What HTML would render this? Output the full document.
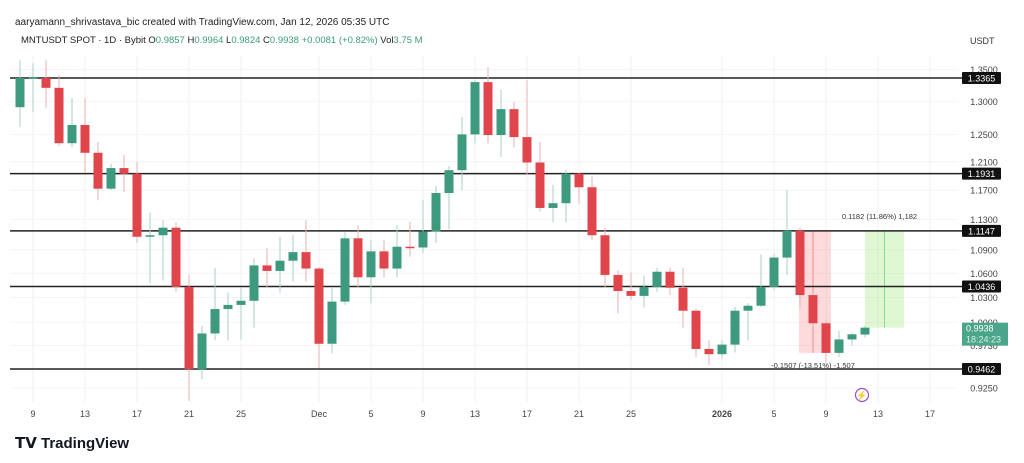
<!DOCTYPE html>
<html><head><meta charset="utf-8"><style>
body{margin:0;background:#fff;width:1024px;height:463px;overflow:hidden;font-family:"Liberation Sans",sans-serif}
svg{display:block}
</style></head><body>
<svg id="c" width="1024" height="463" xmlns="http://www.w3.org/2000/svg">
<text x="15" y="25" font-size="10" fill="#222">aaryamann_shrivastava_bic created with TradingView.com, Jan 12, 2026 05:35 UTC</text>
<text x="21" y="43" font-size="9.5" fill="#222">MNTUSDT SPOT · 1D · Bybit  O<tspan fill="#3a9b80">0.9857</tspan>  H<tspan fill="#3a9b80">0.9964</tspan>  L<tspan fill="#3a9b80">0.9824</tspan>  C<tspan fill="#3a9b80">0.9938</tspan>  <tspan fill="#3a9b80">+0.0081 (+0.82%)</tspan>  Vol<tspan fill="#3a9b80">3.75 M</tspan></text>
<text x="970" y="44" font-size="9" fill="#333">USDT</text>
<g id="grid"></g>
<g id="boxes"></g>
<g id="levels"></g>
<g id="candles"></g>
<g id="axis"></g>
<g id="xaxis"></g>
<g><circle cx="862" cy="395" r="6.5" fill="none" stroke="#9c4fc4" stroke-width="1.2"/><text x="862" y="398.5" font-size="9" fill="#9c4fc4" text-anchor="middle">⚡</text></g>
<g><text x="15" y="448" font-size="15" font-weight="bold" fill="#131722">𝗧𝗩</text><text x="41" y="448" font-size="15" font-weight="bold" fill="#131722">TradingView</text></g>
</svg>
<script>
const opens=[1.291,1.336,1.3365,1.321,1.237,1.264,1.223,1.172,1.201,1.193,1.107,1.109,1.119,1.043,0.946,0.987,1.016,1.021,1.026,1.070,1.063,1.076,1.087,1.066,0.975,1.025,1.105,1.055,1.088,1.066,1.094,1.093,1.114,1.166,1.198,1.250,1.330,1.249,1.288,1.246,1.209,1.1455,1.152,1.193,1.174,1.109,1.058,1.038,1.032,1.043,1.062,1.042,1.014,0.969,0.963,0.974,1.014,1.020,1.043,1.080,1.115,1.033,0.999,0.9645,0.980,0.9857];
const highs=[1.365,1.360,1.365,1.341,1.305,1.305,1.239,1.207,1.220,1.210,1.139,1.129,1.126,1.058,0.996,1.067,1.036,1.043,1.079,1.092,1.107,1.109,1.129,1.068,1.043,1.113,1.122,1.103,1.103,1.122,1.127,1.156,1.176,1.204,1.276,1.333,1.354,1.318,1.299,1.333,1.239,1.177,1.199,1.194,1.189,1.119,1.064,1.061,1.057,1.067,1.067,1.067,1.016,0.979,0.979,1.019,1.023,1.084,1.085,1.170,1.119,1.036,1.003,0.990,0.988,0.9964];
const lows=[1.261,1.284,1.290,1.233,1.231,1.194,1.156,1.170,1.167,1.099,1.048,1.051,1.037,0.911,0.935,0.979,0.979,0.980,0.9935,1.043,1.036,1.050,1.050,0.9475,0.964,1.021,1.043,1.023,1.055,1.055,1.081,1.086,1.099,1.117,1.170,1.237,1.237,1.217,1.231,1.191,1.141,1.126,1.126,1.151,1.103,1.043,1.011,1.027,1.018,1.037,1.033,0.9935,0.960,0.951,0.958,0.965,0.979,1.018,1.039,1.058,1.018,0.995,0.954,0.960,0.973,0.9824];
const closes=[1.3365,1.338,1.321,1.237,1.264,1.223,1.172,1.201,1.193,1.107,1.109,1.119,1.043,0.946,0.987,1.016,1.021,1.026,1.070,1.063,1.076,1.087,1.066,0.975,1.025,1.105,1.055,1.088,1.066,1.094,1.093,1.114,1.166,1.198,1.250,1.330,1.249,1.288,1.246,1.209,1.1455,1.152,1.193,1.174,1.109,1.058,1.038,1.032,1.043,1.062,1.042,1.014,0.969,0.963,0.974,1.014,1.020,1.043,1.080,1.115,1.033,0.999,0.9645,0.980,0.986,0.9938];
const tickValues=[1.35,1.30,1.25,1.21,1.17,1.13,1.09,1.06,1.03,1.00,0.973,0.925];
const tickLabels=["1.3500","1.3000","1.2500","1.2100","1.1700","1.1300","1.0900","1.0600","1.0300","1.0000","0.9730","0.9250"];
const levels=[1.3365,1.1931,1.1147,1.0436,0.9462];
const dateIdx=[1,5,9,13,17,23,27,31,35,39,43,47,54,58,62,66,70];
const dateLabels=["9","13","17","21","25","Dec","5","9","13","17","21","25","2026","5","9","13","17"];
const lastPrice=0.9938;
const NS="http://www.w3.org/2000/svg";
const x=i=>20+13*i;
const y=p=>78+(Math.log(1.3365)-Math.log(p))*842.7;
function mk(t,a,par){const e=document.createElementNS(NS,t);for(const k in a)e.setAttribute(k,a[k]);document.getElementById(par).appendChild(e);return e;}
// grid
dateIdx.forEach(i=>{const l=mk('line',{x1:x(i),x2:x(i),y1:55,y2:402,stroke:'#f0f2f5'},'grid');});
tickValues.forEach(v=>{const l=mk('line',{x1:10,x2:958,y1:y(v),y2:y(v),stroke:'#f3f4f6'},'grid');});
// measure boxes
const rb=mk('rect',{x:x(60)-1,y:y(1.1147),width:x(62)+5-x(60)+1,height:y(0.9645)-y(1.1147),fill:'rgba(242,54,69,0.18)'},'boxes');

mk('line',{x1:x(61),x2:x(61),y1:y(1.1147),y2:y(0.9645),stroke:'#e88'},'boxes');
const rt=mk('text',{x:x(61),y:y(0.9645)+15,'font-size':7.5,'text-anchor':'middle',fill:'#333'},'boxes');rt.textContent='-0.1507 (-13.51%) -1,507';

const gb=mk('rect',{x:x(65),y:y(1.1147),width:x(68)-x(65),height:y(lastPrice)-y(1.1147),fill:'rgba(150,230,110,0.3)'},'boxes');

mk('line',{x1:x(66.5),x2:x(66.5),y1:y(1.1147),y2:y(lastPrice),stroke:'#8d8'},'boxes');
const gt=mk('text',{x:x(66.5)-5,y:y(1.1147)-12,'font-size':7.5,'text-anchor':'middle',fill:'#333'},'boxes');gt.textContent='0.1182 (11.86%) 1,182';

// levels
levels.forEach(v=>{const l=mk('line',{x1:10,x2:962,y1:y(v),y2:y(v),stroke:'#222','stroke-width':1.5},'levels');});
// candles
opens.forEach((o,i)=>{const c=closes[i],up=c>=o,col=up?'#3d9a7e':'#e0454b',wc=up?'#a9cfc2':'#eab0b2';
const w=mk('line',{x1:x(i),x2:x(i),y1:y(highs[i]),y2:y(lows[i]),stroke:wc,'stroke-width':1},'candles');
const t=Math.min(y(o),y(c)),h=Math.max(1.5,Math.abs(y(o)-y(c)));
const b=mk('rect',{x:x(i)-4.5,y:t,width:9,height:h,fill:col},'candles');});
// price axis
tickValues.forEach((v,k)=>{const t=mk('text',{x:984,y:y(v)+3.5,'font-size':9,'text-anchor':'middle',fill:'#444'},'axis');t.textContent=tickLabels[k];});
levels.forEach(v=>{const r=mk('rect',{x:962,y:y(v)-6,width:39,height:12,fill:'#111',rx:1},'axis');
const t=mk('text',{x:981.5,y:y(v)+3.5,'font-size':9,'text-anchor':'middle',fill:'#fff'},'axis');t.textContent=v.toFixed(4);});
const lp=mk('rect',{x:962,y:y(lastPrice)-5,width:46,height:23,fill:'#4aa58a'},'axis');
const lt=mk('text',{x:966,y:y(lastPrice)+4,'font-size':9,fill:'#fff'},'axis');lt.textContent=lastPrice.toFixed(4);
const ct=mk('text',{x:966,y:y(lastPrice)+15,'font-size':9,fill:'#d8f0e8'},'axis');ct.textContent='18:24:23';
// time axis
dateIdx.forEach((i,k)=>{const t=mk('text',{x:x(i),y:417,'font-size':9,'text-anchor':'middle',fill:'#444','font-weight':dateLabels[k]==='2026'?'bold':'normal'},'xaxis');t.textContent=dateLabels[k];});
</script>
</body></html>
